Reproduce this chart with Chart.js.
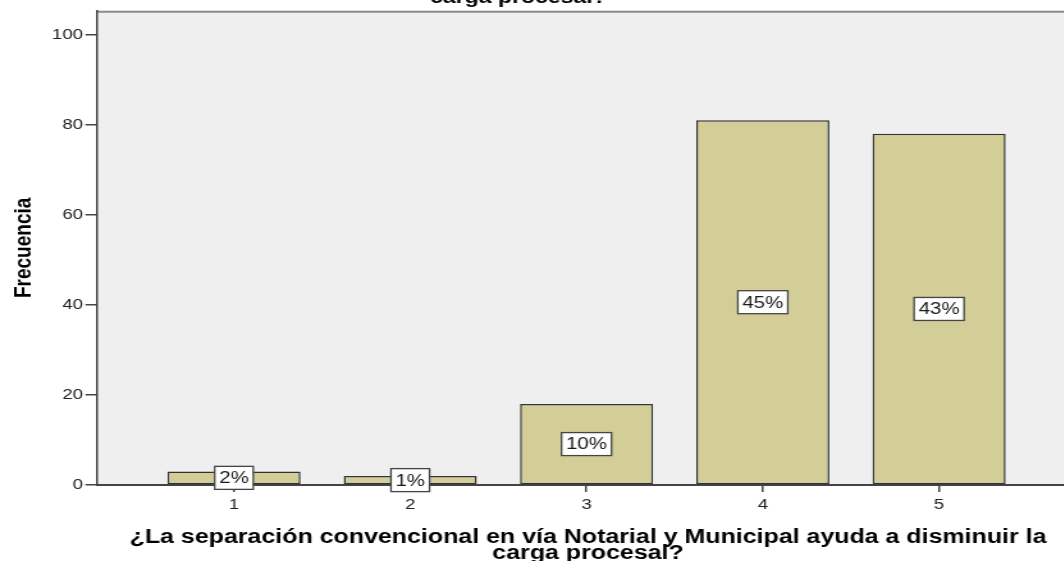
<!DOCTYPE html>
<html>
<head>
<meta charset="utf-8">
<script src="https://cdn.jsdelivr.net/npm/chart.js@4"></script>
<style>
  html, body { margin: 0; padding: 0; background: #fff; overflow: hidden; }
  #wrap { width: 850px; height: 561px; transform: scaleX(1.28); transform-origin: 0 0; }
</style>
</head>
<body>
<div id="wrap"><canvas id="chart" width="850" height="561"></canvas></div>
<script>
// valores
const categories = [1, 2, 3, 4, 5];
const frequencies = [3, 2, 18, 81, 78];
const percentLabels = ['2%', '1%', '10%', '45%', '43%'];
const yTicks = [0, 20, 40, 60, 80, 100];
const xTitle = ['¿La separación convencional en vía Notarial y Municipal ayuda a disminuir la', 'carga procesal?'];
const topTitle = 'carga procesal?';

const fontFamily = "'Liberation Sans', Arial, sans-serif";

const plotBackground = {
  id: 'plotBackground',
  beforeDraw(chart) {
    const { ctx, chartArea } = chart;
    ctx.save();
    ctx.fillStyle = '#efefef';
    ctx.fillRect(chartArea.left, chartArea.top, chartArea.right - chartArea.left, chartArea.bottom - chartArea.top);
    ctx.strokeStyle = '#8a8a8a';
    ctx.lineWidth = 2;
    ctx.beginPath();
    ctx.moveTo(chartArea.left, chartArea.top + 1);
    ctx.lineTo(chartArea.right, chartArea.top + 1);
    ctx.stroke();
    // titulo superior recortado
    ctx.fillStyle = '#000';
    ctx.font = 'bold 18px ' + fontFamily;
    ctx.textAlign = 'center';
    ctx.textBaseline = 'alphabetic';
    ctx.fillText(topTitle, 405, 3);
    ctx.restore();
  },
};

const boxLabels = {
  id: 'boxLabels',
  afterDatasetsDraw(chart) {
    const { ctx } = chart;
    const meta = chart.getDatasetMeta(0);
    ctx.save();
    ctx.font = '16px ' + fontFamily;
    ctx.textAlign = 'center';
    ctx.textBaseline = 'middle';
    meta.data.forEach((bar, i) => {
      const text = percentLabels[i];
      const cx = bar.x;
      const cy = (bar.y + bar.base) / 2;
      const w = ctx.measureText(text).width + 7;
      const h = 23;
      ctx.fillStyle = '#fff';
      ctx.fillRect(cx - w / 2, cy - h / 2, w, h);
      ctx.strokeStyle = '#444';
      ctx.lineWidth = 1.3;
      ctx.strokeRect(cx - w / 2, cy - h / 2, w, h);
      ctx.fillStyle = '#1a1a1a';
      ctx.fillText(text, cx, cy + 1);
    });
    ctx.restore();
  },
};

new Chart(document.getElementById('chart'), {
  type: 'bar',
  data: {
    datasets: [
      {
        label: 'Frecuencia',
        data: categories.map((c, i) => ({ x: c, y: frequencies[i] })),
        backgroundColor: '#d3ce97',
        borderColor: '#333',
        borderWidth: 1.5,
        borderSkipped: false,
        barPercentage: 0.755,
        categoryPercentage: 1,
      },
    ],
  },
  options: {
    responsive: false,
    animation: false,
    devicePixelRatio: 1,
    layout: {
      padding: { top: 10, right: 7, bottom: 0, left: 0 },
    },
    scales: {
      x: {
        type: 'linear',
        offset: false,
        min: 0.223,
        max: 5.794,
        afterBuildTicks: (scale) => {
          scale.ticks = categories.map((v) => ({ value: v }));
        },
        afterFit: (scale) => {
          scale.height = 76;
        },
        grid: {
          offset: false,
          drawOnChartArea: false,
          tickLength: 7,
          color: '#444',
          lineWidth: 1.5,
        },
        border: { color: '#444', width: 2 },
        ticks: {
          color: '#222',
          padding: 4,
          font: { family: fontFamily, size: 14.5 },
        },
        title: {
          display: true,
          text: xTitle,
          color: '#000',
          padding: { top: 0, bottom: -1 },
          font: { family: fontFamily, size: 19.5, weight: 'bold', lineHeight: 0.82 },
        },
      },
      y: {
        min: 0,
        max: 105.3,
        afterBuildTicks: (scale) => {
          scale.ticks = yTicks.map((v) => ({ value: v }));
        },
        afterFit: (scale) => {
          scale.width = 75.8;
        },
        grid: {
          drawOnChartArea: false,
          tickLength: 9,
          color: '#444',
          lineWidth: 1.5,
        },
        border: { color: '#444', width: 1.5 },
        ticks: {
          color: '#222',
          padding: 2,
          font: { family: fontFamily, size: 14.5 },
        },
        title: {
          display: true,
          text: 'Frecuencia',
          color: '#000',
          padding: { top: 7, bottom: 0 },
          font: { family: fontFamily, size: 19, weight: 'bold' },
        },
      },
    },
    plugins: {
      legend: { display: false },
      tooltip: { enabled: false },
    },
  },
  plugins: [plotBackground, boxLabels],
});
</script>
</body>
</html>
